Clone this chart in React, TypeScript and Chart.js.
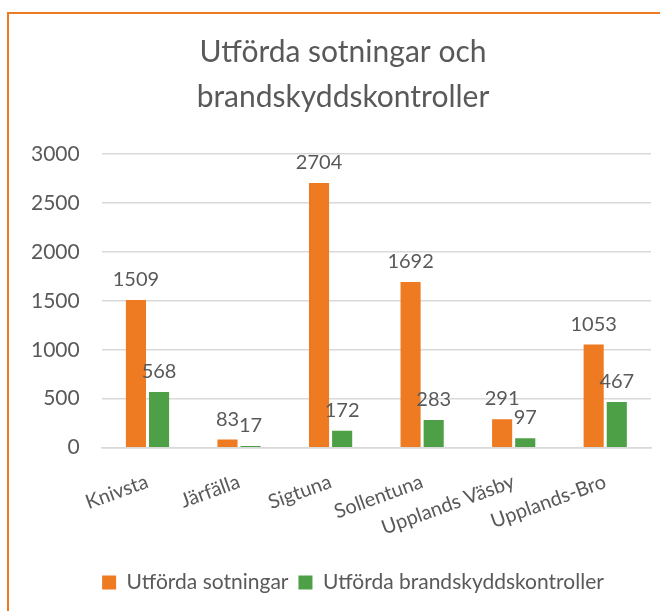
import React, { useEffect, useRef } from "react";
import { Chart, registerables } from "chart.js";

Chart.register(...registerables);

const categories = ["Knivsta", "Järfälla", "Sigtuna", "Sollentuna", "Upplands Väsby", "Upplands-Bro"];
const sotningar = [1509, 83, 2704, 1692, 291, 1053];
const brandskydd = [568, 17, 172, 283, 97, 467];
const seriesNames = ["Utförda sotningar", "Utförda brandskyddskontroller"];
const titleLines = ["Utförda sotningar och", "brandskyddskontroller"];

const FONT = "Lato, 'Open Sans', sans-serif";
const TEXT = "#595959";
const ORANGE = "#EE7B22";
const GREEN = "#4EA046";

const dataLabels = {
  id: "dataLabels",
  afterDatasetsDraw(chart: any) {
    const ctx = chart.ctx;
    ctx.save();
    ctx.font = `20px ${FONT}`;
    ctx.fillStyle = TEXT;
    ctx.textAlign = "center";
    ctx.textBaseline = "alphabetic";
    chart.data.datasets.forEach((ds: any, i: number) => {
      const meta = chart.getDatasetMeta(i);
      meta.data.forEach((el: any, j: number) => {
        ctx.fillText(String(ds.data[j]), el.x, el.y - 14);
      });
    });
    ctx.restore();
  },
};

const boxShift = {
  id: "boxShift",
  afterLayout(chart: any) {
    const t = chart.titleBlock;
    if (t) {
      t.left += 13;
      t.right += 13;
    }
    const lg = chart.legend;
    if (lg) {
      lg.left += 23;
      lg.right += 23;
    }
  },
};

export default function App() {
  const ref = useRef<HTMLCanvasElement | null>(null);
  useEffect(() => {
    if (!ref.current) return;
    const chart = new Chart(ref.current, {
      type: "bar",
      data: {
        labels: categories,
        datasets: [
          {
            label: seriesNames[0],
            data: sotningar,
            backgroundColor: ORANGE,
            categoryPercentage: 0.505,
            barPercentage: 0.87,
          },
          {
            label: seriesNames[1],
            data: brandskydd,
            backgroundColor: GREEN,
            categoryPercentage: 0.505,
            barPercentage: 0.87,
          },
        ],
      },
      options: {
        responsive: false,
        animation: false,
        layout: { padding: { left: 0, right: 20, top: 0, bottom: 8 } },
        plugins: {
          title: {
            display: true,
            text: titleLines,
            color: TEXT,
            font: { family: FONT, size: 30, weight: "normal", lineHeight: 1.5 },
            padding: { top: 16, bottom: 34 },
          },
          legend: {
            position: "bottom",
            labels: {
              color: TEXT,
              font: { family: FONT, size: 21 },
              boxWidth: 14,
              boxHeight: 14,
              padding: 10,
            },
          },
          tooltip: { enabled: false },
        },
        scales: {
          x: {
            grid: { display: false, drawTicks: false },
            border: { display: true, color: "#D9D9D9", width: 1.5 },
            ticks: {
              color: TEXT,
              font: { family: FONT, size: 20 },
              autoSkip: false,
              minRotation: 20,
              maxRotation: 20,
              padding: 22,
            },
          },
          y: {
            min: 0,
            max: 3000,
            grid: { color: "#D9D9D9", lineWidth: 1.5, drawTicks: false },
            border: { display: false },
            ticks: {
              stepSize: 500,
              color: TEXT,
              font: { family: FONT, size: 21 },
              padding: 22,
              callback: (v: any) => String(v),
            },
          },
        },
      },
      plugins: [dataLabels, boxShift],
    });
    return () => chart.destroy();
  }, []);

  return (
    <div
      style={{
        position: "absolute",
        left: 0,
        top: 0,
        width: 660,
        height: 611,
        overflow: "hidden",
        background: "#fff",
      }}
    >
      <div
        style={{
          position: "absolute",
          left: 7,
          top: 12,
          width: 700,
          height: 700,
          border: "2px solid #EE7B22",
          boxSizing: "border-box",
        }}
      />
      <canvas
        ref={ref}
        width={662}
        height={597}
        style={{ position: "absolute", left: 9, top: 14 }}
      />
    </div>
  );
}
